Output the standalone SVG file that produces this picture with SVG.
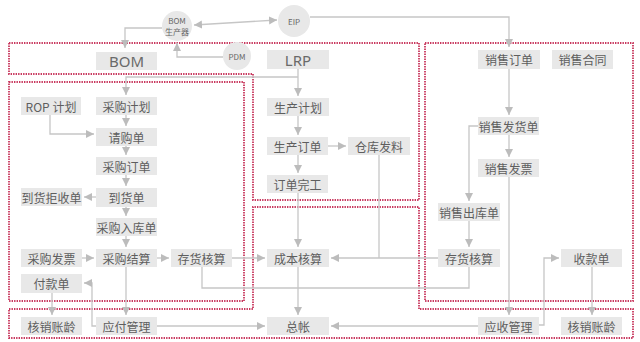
<svg xmlns="http://www.w3.org/2000/svg" width="640" height="342" viewBox="0 0 640 342">
<style>
.bg{fill:#ffffff}
.zone{fill:none;stroke:#c8385e;stroke-width:1.8;stroke-dasharray:1.4 1.1}
.n rect{fill:#e8e8e8}
.n circle{fill:#e8e8e8}
.n text{font-family:"Noto Sans CJK SC","Noto Sans",sans-serif;font-size:12px;fill:#5e5e5e;text-anchor:middle;dominant-baseline:central}
.n text.big{font-size:15px;fill:#6a6a6a;font-family:"Noto Sans","Noto Sans CJK SC",sans-serif}
.n text.sm{font-size:8px;fill:#666}
.c path{fill:none;stroke:#c6c6c6;stroke-width:1.3;marker-end:url(#ah)}
.c path.plain{marker-end:none}
.c path.both{marker-start:url(#ah)}
</style>
<defs>
<marker id="ah" markerUnits="userSpaceOnUse" markerWidth="9" markerHeight="9" refX="8" refY="4" orient="auto-start-reverse">
<path d="M0,0 L8,4 L0,8 z" fill="#bcbcbc"/>
</marker>
</defs>
<rect class="bg" x="0" y="0" width="640" height="342"/>
<g id="zones">
<path class="zone" d="M9,43 H419 V200 H253 V74 H9 Z"/>
<rect class="zone" x="9" y="82" width="235" height="219"/>
<path class="zone" d="M9,309 H253 V207 H419 V309 H633 V338 H9 Z"/>
<rect class="zone" x="425" y="43" width="208" height="258"/>
</g>
<g id="connectors" class="c">
<path class="both" d="M194,25 L277,20"/>
<path d="M162,28 H125 V48"/>
<path d="M223,57 H177 V43"/>
<path d="M310,17 H509 V47"/>
<path d="M298,69 V96"/>
<path d="M298,77 H126 V95"/>
<path d="M50,115 V134 H94"/>
<path d="M126,115 V126"/>
<path d="M126,146 V155"/>
<path d="M126,175 V186"/>
<path d="M96,197 H84"/>
<path d="M126,207 V216"/>
<path d="M126,236 V247"/>
<path d="M82,258 H94"/>
<path d="M157,258 H169"/>
<path d="M232,258 H265"/>
<path d="M126,267 V315"/>
<path d="M96,326 H92 V283 H84"/>
<path d="M52,293 V315"/>
<path d="M157,326 H265"/>
<path class="plain" d="M202,267 V288 H469 V267"/>
<path d="M298,116 V135"/>
<path d="M328,146 H346"/>
<path d="M298,155 V173"/>
<path d="M298,193 V247"/>
<path class="plain" d="M379,155 V258"/>
<path d="M438,258 H331"/>
<path d="M298,267 V315"/>
<path d="M478,326 H331"/>
<path d="M509,69 V115"/>
<path d="M509,135 V157"/>
<path d="M478,126 H469 V201"/>
<path d="M469,221 V247"/>
<path d="M509,177 V315"/>
<path d="M538,325 H544 V258 H559"/>
<path d="M592,267 V315"/>
</g>
<g id="n-bomgen" class="n"><circle cx="177" cy="26" r="15"/><text class="sm" x="177" y="20.5">BOM</text><text class="sm" x="177" y="31.5">生产器</text></g>
<g id="n-eip" class="n"><circle cx="294" cy="21" r="16"/><text class="sm" x="294" y="21">EIP</text></g>
<g id="n-pdm" class="n"><circle cx="237" cy="56" r="14"/><text class="sm" x="237" y="56">PDM</text></g>
<g id="n-bom" class="n"><rect x="96" y="52" width="61" height="18"/><text class="big" x="126.5" y="61">BOM</text></g>
<g id="n-lrp" class="n"><rect x="267" y="50" width="62" height="19"/><text class="big" x="298" y="59.5">LRP</text></g>
<g id="n-rop" class="n"><rect x="21" y="97" width="60" height="18"/><text x="51" y="106">ROP 计划</text></g>
<g id="n-cgjh" class="n"><rect x="96" y="97" width="61" height="18"/><text x="126.5" y="106">采购计划</text></g>
<g id="n-qgd" class="n"><rect x="96" y="128" width="61" height="18"/><text x="126.5" y="137">请购单</text></g>
<g id="n-cgdd" class="n"><rect x="96" y="157" width="61" height="18"/><text x="126.5" y="166">采购订单</text></g>
<g id="n-dhd" class="n"><rect x="96" y="188" width="61" height="19"/><text x="126.5" y="197.5">到货单</text></g>
<g id="n-dhjsd" class="n"><rect x="21" y="188" width="61" height="18"/><text x="51.5" y="197">到货拒收单</text></g>
<g id="n-cgrkd" class="n"><rect x="96" y="218" width="61" height="18"/><text x="126.5" y="227">采购入库单</text></g>
<g id="n-cgfp" class="n"><rect x="21" y="249" width="61" height="18"/><text x="51.5" y="258">采购发票</text></g>
<g id="n-cgjs" class="n"><rect x="96" y="249" width="61" height="18"/><text x="126.5" y="258">采购结算</text></g>
<g id="n-chhs1" class="n"><rect x="171" y="249" width="61" height="18"/><text x="201.5" y="258">存货核算</text></g>
<g id="n-fkd" class="n"><rect x="21" y="274" width="61" height="19"/><text x="51.5" y="283.5">付款单</text></g>
<g id="n-hxzl1" class="n"><rect x="21" y="317" width="61" height="18"/><text x="51.5" y="326">核销账龄</text></g>
<g id="n-yfgl" class="n"><rect x="96" y="317" width="61" height="18"/><text x="126.5" y="326">应付管理</text></g>
<g id="n-scjh" class="n"><rect x="267" y="98" width="62" height="18"/><text x="298" y="107">生产计划</text></g>
<g id="n-scdd" class="n"><rect x="267" y="137" width="61" height="18"/><text x="297.5" y="146">生产订单</text></g>
<g id="n-ckfl" class="n"><rect x="348" y="137" width="62" height="18"/><text x="379" y="146">仓库发料</text></g>
<g id="n-ddwg" class="n"><rect x="267" y="175" width="61" height="18"/><text x="297.5" y="184">订单完工</text></g>
<g id="n-cbhs" class="n"><rect x="267" y="249" width="62" height="18"/><text x="298" y="258">成本核算</text></g>
<g id="n-zz" class="n"><rect x="267" y="317" width="62" height="18"/><text x="298" y="326">总帐</text></g>
<g id="n-xsdd" class="n"><rect x="478" y="50" width="62" height="19"/><text x="509" y="59.5">销售订单</text></g>
<g id="n-xsht" class="n"><rect x="552" y="50" width="61" height="19"/><text x="582.5" y="59.5">销售合同</text></g>
<g id="n-xsfhd" class="n"><rect x="478" y="117" width="61" height="18"/><text x="508.5" y="126">销售发货单</text></g>
<g id="n-xsfp" class="n"><rect x="478" y="159" width="61" height="18"/><text x="508.5" y="168">销售发票</text></g>
<g id="n-xsckd" class="n"><rect x="438" y="203" width="62" height="18"/><text x="469" y="212">销售出库单</text></g>
<g id="n-chhs2" class="n"><rect x="438" y="249" width="62" height="18"/><text x="469" y="258">存货核算</text></g>
<g id="n-skd" class="n"><rect x="561" y="249" width="61" height="18"/><text x="591.5" y="258">收款单</text></g>
<g id="n-ysgl" class="n"><rect x="478" y="317" width="61" height="18"/><text x="508.5" y="326">应收管理</text></g>
<g id="n-hxzl2" class="n"><rect x="561" y="317" width="61" height="18"/><text x="591.5" y="326">核销账龄</text></g>
</svg>
